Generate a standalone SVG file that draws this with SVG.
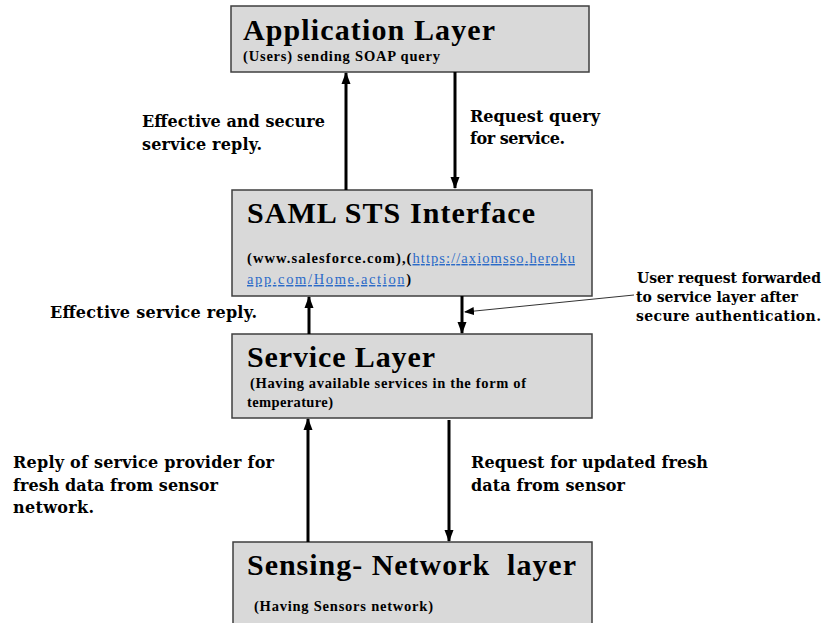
<svg xmlns="http://www.w3.org/2000/svg" width="824" height="623" viewBox="0 0 824 623">
  <style>
    .box { fill: #d9d9d9; stroke: #3f3f3f; stroke-width: 1.5; }
    .title { font-family: 'Liberation Serif', 'Times New Roman', serif; font-weight: bold; font-size: 30px; fill: #000; }
    .sub { font-family: 'Liberation Serif', 'Times New Roman', serif; font-weight: bold; font-size: 14.5px; fill: #000; }
    .lbl { font-family: 'DejaVu Serif', 'Liberation Serif', serif; font-weight: bold; font-size: 16px; fill: #000; }
    .lbl-sm { font-family: 'DejaVu Serif', 'Liberation Serif', serif; font-weight: bold; font-size: 14px; fill: #000; }
    .link { fill: #2a6ac8; text-decoration: underline; font-weight: normal; }
    .flow { stroke: #000; stroke-width: 3; fill: none; }
    .call { stroke: #333; stroke-width: 1; fill: none; }
  </style>
  <defs>
    <marker id="head" markerUnits="userSpaceOnUse" markerWidth="12" markerHeight="12" viewBox="0 0 12 12" refX="11" refY="6" orient="auto">
      <path d="M0,1.5 L12,6 L0,10.5 Z" fill="#000"/>
    </marker>
    <marker id="smallhead" markerUnits="userSpaceOnUse" markerWidth="10" markerHeight="10" viewBox="0 0 10 10" refX="9" refY="5" orient="auto">
      <path d="M0,1 L10,5 L0,9 Z" fill="#000"/>
    </marker>
  </defs>

  <g id="application-layer">
    <rect class="box" x="231" y="6" width="358" height="66"/>
    <text class="title" x="243" y="40" textLength="252" lengthAdjust="spacing">Application Layer</text>
    <text class="sub" x="243" y="61" textLength="197" lengthAdjust="spacing">(Users) sending SOAP query</text>
  </g>

  <g id="saml-sts-interface">
    <rect class="box" x="232" y="190" width="360" height="106"/>
    <text class="title" x="247" y="223" textLength="288" lengthAdjust="spacing">SAML STS Interface</text>
    <text class="sub" x="247" y="263" textLength="328" lengthAdjust="spacing">(www.salesforce.com),(<tspan class="link">https://axiomsso.heroku</tspan></text>
    <text class="sub" x="247" y="284" textLength="164" lengthAdjust="spacing"><tspan class="link">app.com/Home.action</tspan>)</text>
  </g>

  <g id="service-layer">
    <rect class="box" x="232" y="334" width="360" height="84"/>
    <text class="title" x="247" y="367" textLength="188" lengthAdjust="spacing">Service Layer</text>
    <text class="sub" x="250" y="388" textLength="276" lengthAdjust="spacing">(Having available services in the form of</text>
    <text class="sub" x="247" y="407" textLength="86" lengthAdjust="spacing">temperature)</text>
  </g>

  <g id="sensing-network-layer">
    <rect class="box" x="233" y="542" width="359" height="90"/>
    <text class="title" x="247" y="575" textLength="329" lengthAdjust="spacing" xml:space="preserve">Sensing- Network  layer</text>
    <text class="sub" x="254" y="611" textLength="179" lengthAdjust="spacing">(Having Sensors network)</text>
  </g>

  <g id="connectors">
    <line class="flow" x1="346" y1="190" x2="346" y2="73" marker-end="url(#head)"/>
    <line class="flow" x1="455" y1="72" x2="455" y2="188" marker-end="url(#head)"/>
    <line class="flow" x1="309" y1="334" x2="309" y2="297" marker-end="url(#head)"/>
    <line class="flow" x1="462" y1="296" x2="462" y2="333" marker-end="url(#head)"/>
    <line class="flow" x1="308" y1="542" x2="308" y2="419" marker-end="url(#head)"/>
    <line class="flow" x1="449" y1="420" x2="449" y2="541" marker-end="url(#head)"/>
    <line class="call" x1="634" y1="295" x2="465" y2="312" marker-end="url(#smallhead)"/>
  </g>

  <g id="labels">
    <text class="lbl" x="142" y="127" textLength="183" lengthAdjust="spacing">Effective and secure</text>
    <text class="lbl" x="142" y="150" textLength="120" lengthAdjust="spacing">service reply.</text>
    <text class="lbl" x="470" y="122" textLength="130" lengthAdjust="spacing">Request query</text>
    <text class="lbl" x="470" y="144" textLength="95" lengthAdjust="spacing">for service.</text>
    <text class="lbl" x="50" y="318" textLength="207" lengthAdjust="spacing">Effective service reply.</text>
    <text class="lbl-sm" x="637" y="283" textLength="184" lengthAdjust="spacing">User request forwarded</text>
    <text class="lbl-sm" x="636" y="302" textLength="162" lengthAdjust="spacing">to service layer after</text>
    <text class="lbl-sm" x="636" y="321" textLength="185" lengthAdjust="spacing">secure authentication.</text>
    <text class="lbl" x="13" y="468" textLength="261" lengthAdjust="spacing">Reply of service provider for</text>
    <text class="lbl" x="13" y="491" textLength="205" lengthAdjust="spacing">fresh data from sensor</text>
    <text class="lbl" x="13" y="513" textLength="81" lengthAdjust="spacing">network.</text>
    <text class="lbl" x="471" y="468" textLength="237" lengthAdjust="spacing">Request for updated fresh</text>
    <text class="lbl" x="471" y="491" textLength="154" lengthAdjust="spacing">data from sensor</text>
  </g>
</svg>
